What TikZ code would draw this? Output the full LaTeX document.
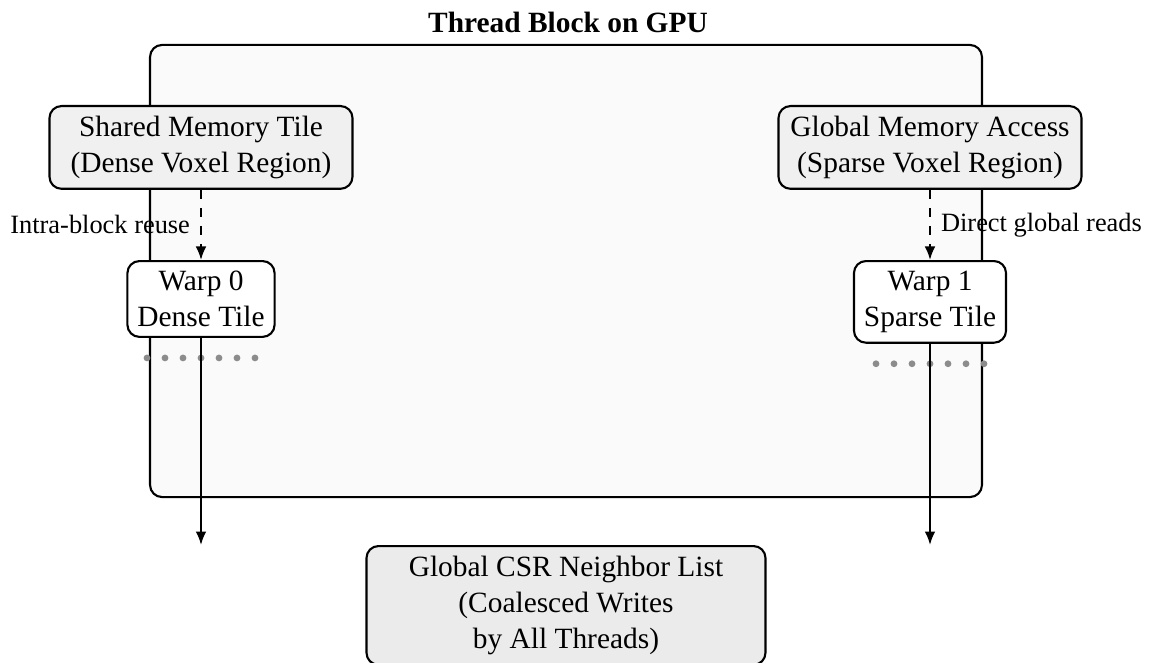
\documentclass[tikz,border=0pt]{standalone}
\usepackage{fontspec}
\setmainfont{Liberation Serif}
\usetikzlibrary{arrows.meta,calc}
\definecolor{blockfill}{HTML}{FAFAFA}
\definecolor{memfill}{HTML}{F0F0F0}
\definecolor{csrfill}{HTML}{EBEBEB}
\definecolor{dotgray}{HTML}{8C8C8C}
\tikzset{
  every picture/.style={line width=0.7pt},
  every node/.style={font=\fontsize{9.8}{12}\selectfont},
  blockbox/.style={draw, rounded corners=4pt, fill=blockfill, minimum width=277.3pt, minimum height=150.7pt, inner sep=0pt},
  membox/.style={draw, rounded corners=4pt, fill=memfill, align=center, minimum width=101pt},
  warpbox/.style={draw, rounded corners=4pt, fill=white, align=center},
  csrbox/.style={draw, rounded corners=4pt, fill=csrfill, align=center, minimum width=133pt},
  dasharrow/.style={dashed, -{Latex[length=4.5pt,width=3.6pt]}},
  solidarrow/.style={-{Latex[length=4.5pt,width=3.6pt]}},
  dotmark/.style={fill=dotgray},
  lbl/.style={font=\fontsize{8.8}{10.5}\selectfont}
}
\begin{document}
\begin{tikzpicture}[x=0.33333pt,y=-0.33333pt]
\useasboundingbox (0,0) rectangle (1157,663);
\node[blockbox] (block) at (566,271) {};
\node[anchor=base, font=\fontsize{9.8}{12}\selectfont\bfseries] (title) at (568,33) {Thread Block on GPU};
\node[membox, anchor=north] (shared) at (201,105) {Shared Memory Tile\\(Dense Voxel Region)};
\node[membox, anchor=north] (global) at (930,105) {Global Memory Access\\(Sparse Voxel Region)};
\node[warpbox, anchor=north] (w0) at (201,260) {Warp 0\\Dense Tile};
\node[warpbox, anchor=north] (w1) at (930,260) {Warp 1\\Sparse Tile};
\node[csrbox, anchor=north] (csr) at (566,545) {Global CSR Neighbor List\\(Coalesced Writes\\by All Threads)};
\foreach \i in {-3,...,3} {
  \fill[dotmark] ($(w0.south)+(\i*18,20)$) circle[radius=3.4];
  \fill[dotmark] ($(w1.south)+(\i*18,20)$) circle[radius=3.4];
}
\draw[dasharrow] (shared) -- node[left, lbl] {Intra-block reuse} (w0);
\draw[dasharrow] (global) -- node[right, lbl] {Direct global reads} (w1);
\draw[solidarrow] (w0) -- (w0 |- csr.north);
\draw[solidarrow] (w1) -- (w1 |- csr.north);
\end{tikzpicture}
\end{document}
